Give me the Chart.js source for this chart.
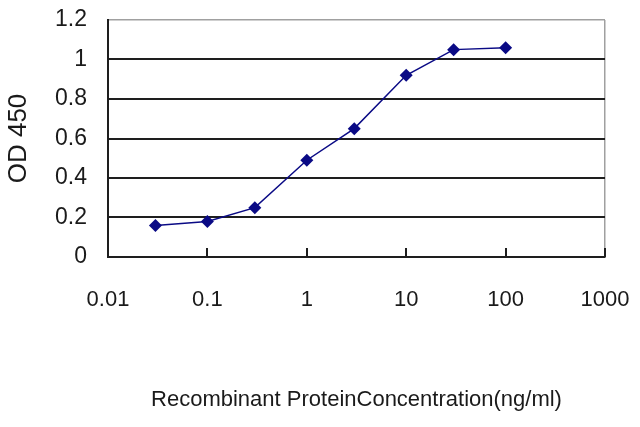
<!DOCTYPE html>
<html>
<head>
<meta charset="utf-8">
<script src="https://cdn.jsdelivr.net/npm/chart.js@4/dist/chart.umd.min.js"></script>
<style>
    html, body { margin: 0; padding: 0; background: #fff; }
    #wrap { width: 640px; height: 427px; }
</style>
</head>
<body>
<div id="wrap"><canvas id="elisa-chart"></canvas></div>
<script>
// ELISA standard curve: OD 450 against protein concentration (ng/ml)
const concentrations = [0.03, 0.1, 0.3, 1, 3, 10, 30, 100];
const od450 = [0.16, 0.18, 0.25, 0.49, 0.65, 0.92, 1.05, 1.06];
const xTicks = [0.01, 0.1, 1, 10, 100, 1000];
const yTicks = [0, 0.2, 0.4, 0.6, 0.8, 1, 1.2];

const colors = {
    line: '#0a0a85',
    grid: '#1e1e1e',
    frame: '#a0a0a0',
    text: '#1a1a1a'
};

const fontFamily = "'Liberation Sans', Arial, sans-serif";

// short inward tick marks on the x axis, Excel style
const innerTicks = {
    id: 'innerTicks',
    afterDraw(chart) {
        const { ctx, chartArea, scales } = chart;
        ctx.save();
        ctx.strokeStyle = colors.grid;
        ctx.lineWidth = 2;
        xTicks.slice(1).forEach(v => {
            const px = Math.round(scales.x.getPixelForValue(v));
            ctx.beginPath();
            ctx.moveTo(px, chartArea.bottom);
            ctx.lineTo(px, chartArea.bottom - 9);
            ctx.stroke();
        });
        ctx.restore();
    }
};

new Chart(document.getElementById('elisa-chart'), {
    type: 'line',
    data: {
        datasets: [{
            label: 'OD 450',
            data: concentrations.map((c, i) => ({ x: c, y: od450[i] })),
            borderColor: colors.line,
            backgroundColor: colors.line,
            borderWidth: 1.5,
            tension: 0,
            pointStyle: 'rectRot',
            pointRadius: 6.5,
            pointBorderWidth: 0
        }]
    },
    options: {
        responsive: true,
        maintainAspectRatio: false,
        animation: false,
        layout: { padding: { left: 0, right: 35, top: 20, bottom: 0 } },
        plugins: {
            legend: { display: false },
            tooltip: { enabled: false }
        },
        scales: {
            x: {
                type: 'logarithmic',
                min: 0.01,
                max: 1000,
                afterBuildTicks: s => { s.ticks = xTicks.map(v => ({ value: v })); },
                afterFit: s => {
                    s.height = 427 - 257;
                    s.paddingLeft = 0;
                    s.paddingRight = 0;
                },
                border: { display: true, color: colors.grid, width: 2 },
                grid: {
                    drawTicks: false,
                    lineWidth: 1.5,
                    color: c => c.tick && c.tick.value === 1000 ? colors.frame : 'rgba(0,0,0,0)'
                },
                ticks: {
                    padding: 30,
                    color: colors.text,
                    font: { family: fontFamily, size: 22 },
                    maxRotation: 0,
                    autoSkip: false,
                    callback: v => String(v)
                },
                title: {
                    display: true,
                    text: 'Recombinant ProteinConcentration(ng/ml)',
                    color: colors.text,
                    font: { family: fontFamily, size: 22 },
                    padding: { top: 0, bottom: 14 }
                }
            },
            y: {
                min: 0,
                max: 1.2,
                afterBuildTicks: s => { s.ticks = yTicks.map(v => ({ value: v })); },
                afterFit: s => {
                    s.width = 108;
                    s.paddingTop = 0;
                    s.paddingBottom = 0;
                },
                border: { display: true, color: colors.grid, width: 2 },
                grid: {
                    drawTicks: false,
                    lineWidth: c => c.tick && c.tick.value === 1.2 ? 1.5 : 2,
                    color: c => c.tick && c.tick.value === 1.2 ? colors.frame : colors.grid
                },
                ticks: {
                    padding: 21,
                    color: colors.text,
                    font: { family: fontFamily, size: 23 },
                    callback: v => String(v)
                },
                title: {
                    display: true,
                    text: 'OD 450',
                    color: colors.text,
                    font: { family: fontFamily, size: 26 },
                    padding: { top: 3, bottom: 0 }
                }
            }
        }
    },
    plugins: [innerTicks]
});
</script>
</body>
</html>
